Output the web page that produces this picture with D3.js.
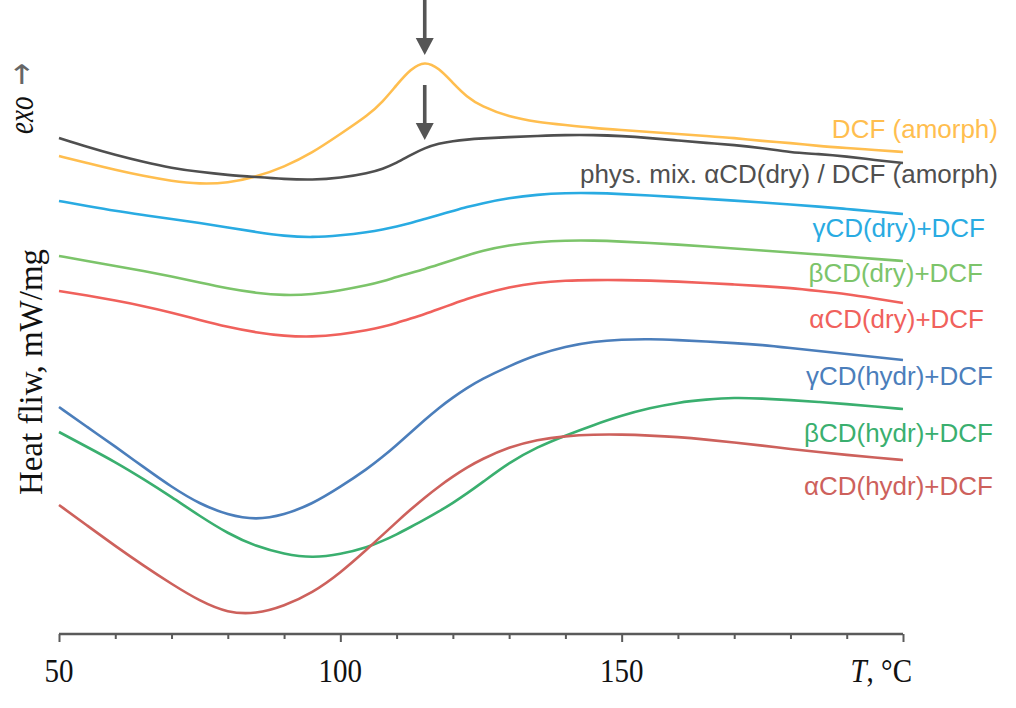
<!DOCTYPE html>
<html>
<head>
<meta charset="utf-8">
<script src="https://cdn.jsdelivr.net/npm/d3@7"></script>
<style>
  html, body { margin: 0; padding: 0; background: #ffffff; }
  svg { display: block; }
</style>
</head>
<body>
<svg id="chart" width="1016" height="708"></svg>
<script>
// ---------------- DATA ----------------
// Temperature, °C (shared grid for all DSC curves)
const temperatures = [50, 55, 60, 65, 70, 75, 80, 85, 90, 95, 100, 105, 107.5, 110, 112.5, 115, 117.5, 120, 122.5, 125,
  130, 135, 140, 145, 150, 155, 160, 165, 170, 175, 180, 185, 190, 195, 200];

// Heat flow (arbitrary offset units, exo up)
const dcfAmorph = [484, 477, 470, 464, 459, 456, 457, 463, 473, 487, 506, 525, 538, 555, 571, 579, 572, 557, 543, 534,
  523, 518, 515, 512, 510, 508, 506, 504, 502, 499, 497, 494, 492, 490, 488];
const physMix = [502, 493, 485, 478, 472, 468, 465, 463, 461, 460, 462, 467, 471, 477, 485, 492, 496.5, 499, 500.5, 501.5,
  503, 504, 505, 505, 504, 502, 499.5, 497, 495, 492, 487.5, 486, 483.5, 480, 477];
const gammaDry = [439, 434, 429, 425, 421, 417, 412.5, 408, 404, 402.5, 404.5, 408, 410.5, 413.5, 417, 421, 425, 429, 433, 436.5,
  442, 445.5, 447, 447, 446, 444.5, 443, 441, 439.5, 437.5, 435.5, 433.5, 431, 428.5, 426];
const betaDry = [384, 379, 374, 369, 363.5, 357.5, 351.5, 347, 344.5, 345.5, 349.5, 355, 358.5, 363, 367, 371, 375.5, 380, 384.5, 389,
  395, 398, 399.5, 399.5, 398.5, 397, 395.5, 393.5, 391.5, 389.5, 387.5, 385.5, 383.5, 381, 379];
const alphaDry = [349, 344.5, 339.5, 334, 327.5, 320, 313, 307.5, 304, 303, 305.5, 310, 313, 317, 321.5, 326, 331, 336, 341, 345.5,
  353, 357.5, 359.5, 360, 360, 359.5, 358.5, 357, 355.5, 354, 352, 349, 346, 341.5, 337];
const gammaHydr = [233, 213, 193.5, 173, 153, 136, 125, 120, 125, 136, 153, 172, 183, 195, 207.5, 220, 232, 242.5, 252, 260.5,
  274, 285.5, 293.5, 298.5, 300.5, 301, 300, 298.5, 297, 295, 292, 289, 286, 283, 280];
const betaHydr = [208, 193, 178, 161, 143, 124, 106.5, 93.5, 86, 82, 85.5, 93, 99, 105.5, 113, 120.5, 128.5, 137, 146.5, 156.5,
  177.5, 193, 204.5, 215, 224.5, 232, 237.5, 240.5, 242.5, 241.5, 240, 238, 236, 233.5, 231];
const alphaHydr = [135, 114.5, 94, 74.5, 56, 39, 27, 26, 34, 47, 67, 92, 105, 118, 130.5, 142.5, 153.5, 163.5, 172.5, 180.5,
  193, 200.5, 204, 205.5, 205.5, 204.5, 203, 200.5, 197.5, 194.5, 191, 188, 185, 182.5, 180];

const seriesNames = ["DCF (amorph)", "phys. mix. αCD(dry) / DCF (amorph)", "γCD(dry)+DCF", "βCD(dry)+DCF",
  "αCD(dry)+DCF", "γCD(hydr)+DCF", "βCD(hydr)+DCF", "αCD(hydr)+DCF"];
const seriesValues = [dcfAmorph, physMix, gammaDry, betaDry, alphaDry, gammaHydr, betaHydr, alphaHydr];

const xTicks = [50, 60, 70, 80, 90, 100, 110, 120, 130, 140, 150, 160, 170, 180, 190, 200];
const xTickLabels = [50, 100, 150];
const arrowTemperature = 115;

// ---------------- STYLE / LAYOUT ----------------
const colors = ["#FFBE4F", "#4F4F4F", "#29ABE2", "#7CC46A", "#F0615C", "#4B7EBB", "#3AAF6F", "#CD615C"];
const labelPos = [[998, 138], [998, 183], [985, 237], [983, 282], [984, 328], [993, 385], [993, 442], [993, 495]];

const svg = d3.select("#chart");
const x = d3.scaleLinear().domain([50, 200]).range([59, 903]);
const y = d3.scaleLinear().domain([0, 640]).range([640, 0]);

const line = d3.line()
  .x((d, i) => x(temperatures[i]))
  .y(d => y(d))
  .curve(d3.curveBasis);

// curves
svg.append("g").selectAll("path")
  .data(seriesValues)
  .join("path")
  .attr("d", d => line(d))
  .attr("fill", "none")
  .attr("stroke", (d, i) => colors[i])
  .attr("stroke-width", 2.6)
  .attr("stroke-linejoin", "round");

// labels
svg.append("g").selectAll("text")
  .data(seriesNames)
  .join("text")
  .attr("x", (d, i) => labelPos[i][0])
  .attr("y", (d, i) => labelPos[i][1])
  .attr("text-anchor", "end")
  .attr("fill", (d, i) => colors[i])
  .style("font-family", "'Liberation Sans', Arial, sans-serif")
  .style("font-size", "26px")
  .text(d => d);

// x axis
const axisY = 634;
const axis = svg.append("g").attr("transform", `translate(0,${axisY})`);
axis.call(d3.axisBottom(x).tickValues(xTicks).tickSize(0).tickFormat(""));
axis.select(".domain").remove();
axis.append("line")
  .attr("x1", x(50)).attr("x2", x(200))
  .attr("stroke", "#5a5a5a").attr("stroke-width", 2.6);
axis.selectAll(".tick line")
  .attr("y2", d => (d % 50 === 0 ? 8 : 5))
  .attr("stroke", "#5a5a5a")
  .attr("stroke-width", 2);

const serif = "'Liberation Serif', 'Times New Roman', serif";
svg.append("g").selectAll("text")
  .data(xTickLabels)
  .join("text")
  .attr("transform", d => `translate(${x(d)},682) scale(1,1.13)`)
  .attr("text-anchor", "middle")
  .style("font-family", serif)
  .style("font-size", "29px")
  .attr("fill", "#111")
  .text(d => d);

const tLabel = svg.append("text")
  .attr("transform", "translate(912,682) scale(1,1.13)")
  .attr("text-anchor", "end")
  .style("font-family", serif)
  .style("font-size", "29px")
  .attr("fill", "#111");
tLabel.append("tspan").style("font-style", "italic").text("T");
tLabel.append("tspan").text(", °C");

// y label
svg.append("text")
  .attr("transform", "translate(42,372) rotate(-90)")
  .attr("text-anchor", "middle")
  .style("font-family", serif)
  .style("font-size", "33px")
  .attr("fill", "#111")
  .text("Heat fliw, mW/mg");

// exo label
const exo = svg.append("text")
  .attr("transform", "translate(33,134) rotate(-90) scale(1,1.3)")
  .attr("text-anchor", "start")
  .style("font-family", serif)
  .style("font-size", "27px")
  .attr("fill", "#111");
exo.append("tspan").style("font-style", "italic").text("exo");
exo.append("tspan").attr("fill", "#666").style("font-family", "'DejaVu Sans', sans-serif")
  .style("font-size", "27px").attr("dx", 11).text("→");

// arrows
const idx = temperatures.indexOf(arrowTemperature);
const ax = x(arrowTemperature);
function arrow(top, tip) {
  const g = svg.append("g").attr("fill", "#555");
  g.append("rect").attr("x", ax - 1.8).attr("y", top).attr("width", 3.6).attr("height", tip - 16 - top);
  g.append("path").attr("d", `M${ax - 9},${tip - 17} L${ax + 9},${tip - 17} L${ax},${tip} Z`);
}
const tip1 = y(dcfAmorph[idx]) - 6;
arrow(0, tip1);
const tip2 = y(physMix[idx]) - 8;
arrow(tip2 - 55, tip2);
</script>
</body>
</html>
